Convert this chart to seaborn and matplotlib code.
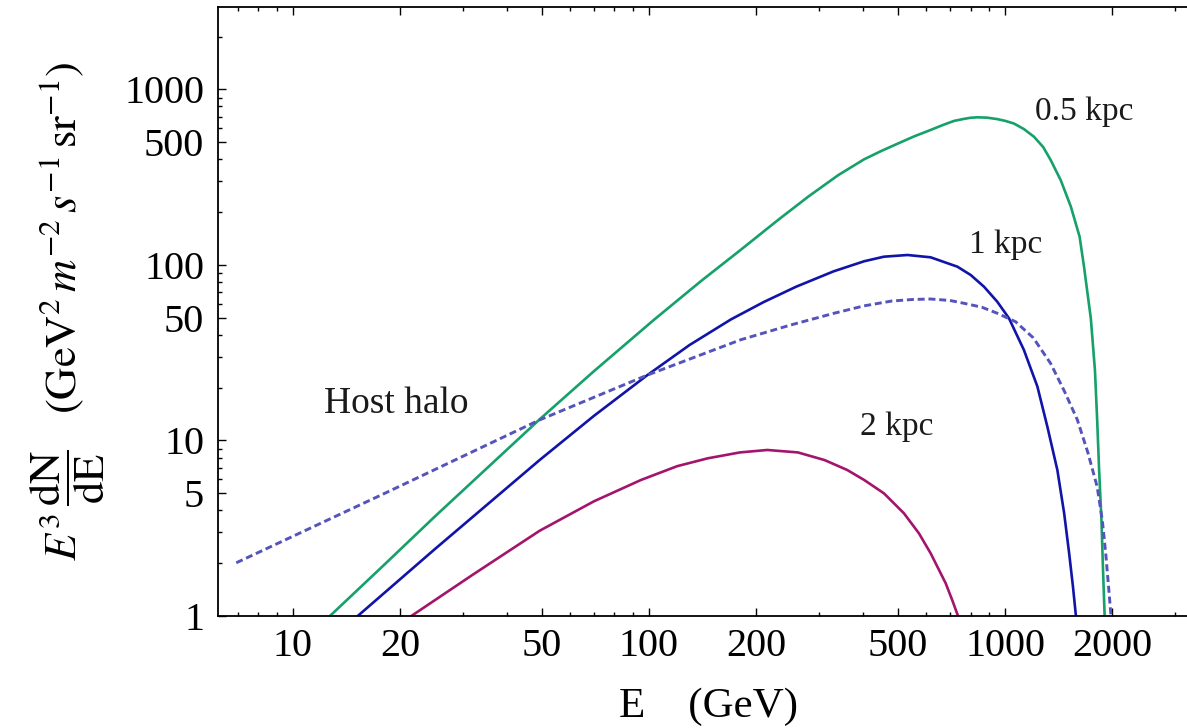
import matplotlib
matplotlib.use("Agg")
import matplotlib.pyplot as plt
import pandas as pd
import seaborn as sns
from matplotlib.ticker import FixedLocator, FixedFormatter, NullFormatter

# Positron spectra E^3 dN/dE (GeV^2 m^-2 s^-1 sr^-1) versus energy E (GeV)
e_half_kpc = [12.7, 18, 25.0, 35, 49.3, 70, 103, 140, 181, 230, 280, 340, 402,
              450, 498, 555, 618, 670, 719, 767, 800, 836, 891, 951, 1000,
              1059, 1130, 1206, 1280, 1343, 1434, 1531, 1620, 1667, 1705,
              1742, 1789, 1815, 1838, 1866, 1885, 1905]
f_half_kpc = [1.0, 1.95, 3.68, 6.93, 13.2, 24.8, 48.5, 81, 122, 180, 245, 325,
              400, 447, 490, 540, 588, 628, 662, 680, 690, 694, 691, 678, 663,
              640, 595, 538, 470, 397, 304, 215, 145, 97.8, 69,
              49.7, 25.2, 13.1, 6.8, 3.52, 1.83, 1.0]

e_one_kpc = [15.2, 25, 49.3, 70, 99, 130, 170, 210, 259, 330, 402, 457, 532,
             618, 735, 801, 873, 951, 1026, 1130, 1233, 1315, 1403, 1466, 1514,
             1552, 1582]
f_one_kpc = [1.0, 2.4, 7.74, 13.8, 23.6, 35, 49, 61.5, 75.2, 92, 105, 111.5,
             114, 110.6, 97.8, 87.7, 75.2, 61.8, 49.7, 32.8, 20.3, 12.0, 6.79,
             3.85, 2.28, 1.47, 1.0]

e_two_kpc = [21.5, 32, 49.3, 70, 95, 120, 146, 180, 215, 262, 311, 360, 402,
             457, 520, 573, 618, 681, 711, 738]
f_two_kpc = [1.0, 1.72, 3.06, 4.5, 5.96, 7.14, 7.91, 8.55, 8.83, 8.55, 7.74,
             6.8, 5.96, 5.0, 3.85, 2.96, 2.28, 1.54, 1.23, 1.0]

e_host = [6.93, 18.1, 49.3, 99, 181, 250, 330, 402, 480, 550, 618, 700, 767,
          860, 951, 1071, 1200, 1343, 1470, 1597, 1710, 1815, 1876, 1918,
          1950, 1985]
f_host = [2.01, 5.0, 13.1, 23.6, 37.5, 45.5, 53.0, 58.5, 62.3, 63.6, 64.0,
          62.8, 60.5, 57.5, 53.1, 47.5, 38.5, 27.5, 19, 13.1, 8.5, 5.45, 3.52,
          2.28, 1.54, 1.0]

x_major = [10, 20, 50, 100, 200, 500, 1000, 2000]
x_minor = [7, 8, 9, 30, 40, 60, 70, 80, 90, 300, 400, 600, 700, 800, 900, 3000]
y_major = [1, 5, 10, 50, 100, 500, 1000]
y_minor = [2, 3, 4, 6, 7, 8, 9, 20, 30, 40, 60, 70, 80, 90,
           200, 300, 400, 600, 700, 800, 900, 2000]

sns.set_theme(style="ticks")
plt.rcParams["font.family"] = ["Liberation Serif", "DejaVu Serif"]
plt.rcParams["mathtext.fontset"] = "stix"
for key in ("text.color", "axes.labelcolor", "xtick.color", "ytick.color",
            "axes.edgecolor"):
    plt.rcParams[key] = "black"

W, H = 1187, 728
fig = plt.figure(figsize=(W / 100, H / 100), dpi=100)
ax = fig.add_axes([218 / W, (H - 616) / H, (W - 218) / W, 609 / H])

curves = [
    (e_half_kpc, f_half_kpc, "#16a06a"),
    (e_one_kpc, f_one_kpc, "#1014a8"),
    (e_two_kpc, f_two_kpc, "#a3146c"),
]
for e, f, col in curves:
    df = pd.DataFrame({"E": e, "flux": f})
    sns.lineplot(data=df, x="E", y="flux", color=col, lw=1.9, sort=False,
                 errorbar=None, ax=ax)

df_host = pd.DataFrame({"E": e_host, "flux": f_host})
sns.lineplot(data=df_host, x="E", y="flux", color="#5454bc", lw=2.1,
             sort=False, errorbar=None, ax=ax)
ax.lines[-1].set_dashes((2.4, 1.3))
ax.lines[-1].set_dash_capstyle("butt")

ax.set_xscale("log")
ax.set_yscale("log")
ax.set_xlim(6.157, 3245)
ax.set_ylim(1, 2951)

ax.xaxis.set_major_locator(FixedLocator(x_major))
ax.xaxis.set_major_formatter(FixedFormatter([str(v) for v in x_major]))
ax.xaxis.set_minor_locator(FixedLocator(x_minor))
ax.xaxis.set_minor_formatter(NullFormatter())
ax.yaxis.set_major_locator(FixedLocator(y_major))
ax.yaxis.set_major_formatter(FixedFormatter([str(v) for v in y_major]))
ax.yaxis.set_minor_locator(FixedLocator(y_minor))
ax.yaxis.set_minor_formatter(NullFormatter())

ax.tick_params(which="both", direction="in", top=True, right=False,
               color="black", width=1.0)
ax.tick_params(which="major", length=5.8, labelsize=29)
ax.tick_params(which="minor", length=2.9)
ax.tick_params(axis="x", which="major", pad=9)
ax.tick_params(axis="y", which="major", pad=10)

for side in ("left", "bottom", "top"):
    ax.spines[side].set_linewidth(1.3)
ax.spines["right"].set_visible(False)

ax.set_xlabel("E    (GeV)", fontsize=31, va="baseline")
ax.xaxis.set_label_coords(0.5067, -0.1658)
ax.set_ylabel(r"$E^3\,\dfrac{\mathrm{dN}}{\mathrm{dE}}\quad"
              r"(\mathrm{GeV}^2\,m^{-2}\,s^{-1}\,\mathrm{sr}^{-1})$",
              fontsize=32)
ax.yaxis.set_label_coords(-0.1146, 0.5)

label_kw = dict(ha="center", va="baseline", color="#1a1a1a")
ax.text(1667, 670, "0.5 kpc", fontsize=24, **label_kw)
ax.text(1007, 117, "1 kpc", fontsize=24, **label_kw)
ax.text(497, 10.75, "2 kpc", fontsize=24, **label_kw)
ax.text(19.5, 14.3, "Host halo", fontsize=27, **label_kw)

fig.savefig("out.png", dpi=100)
